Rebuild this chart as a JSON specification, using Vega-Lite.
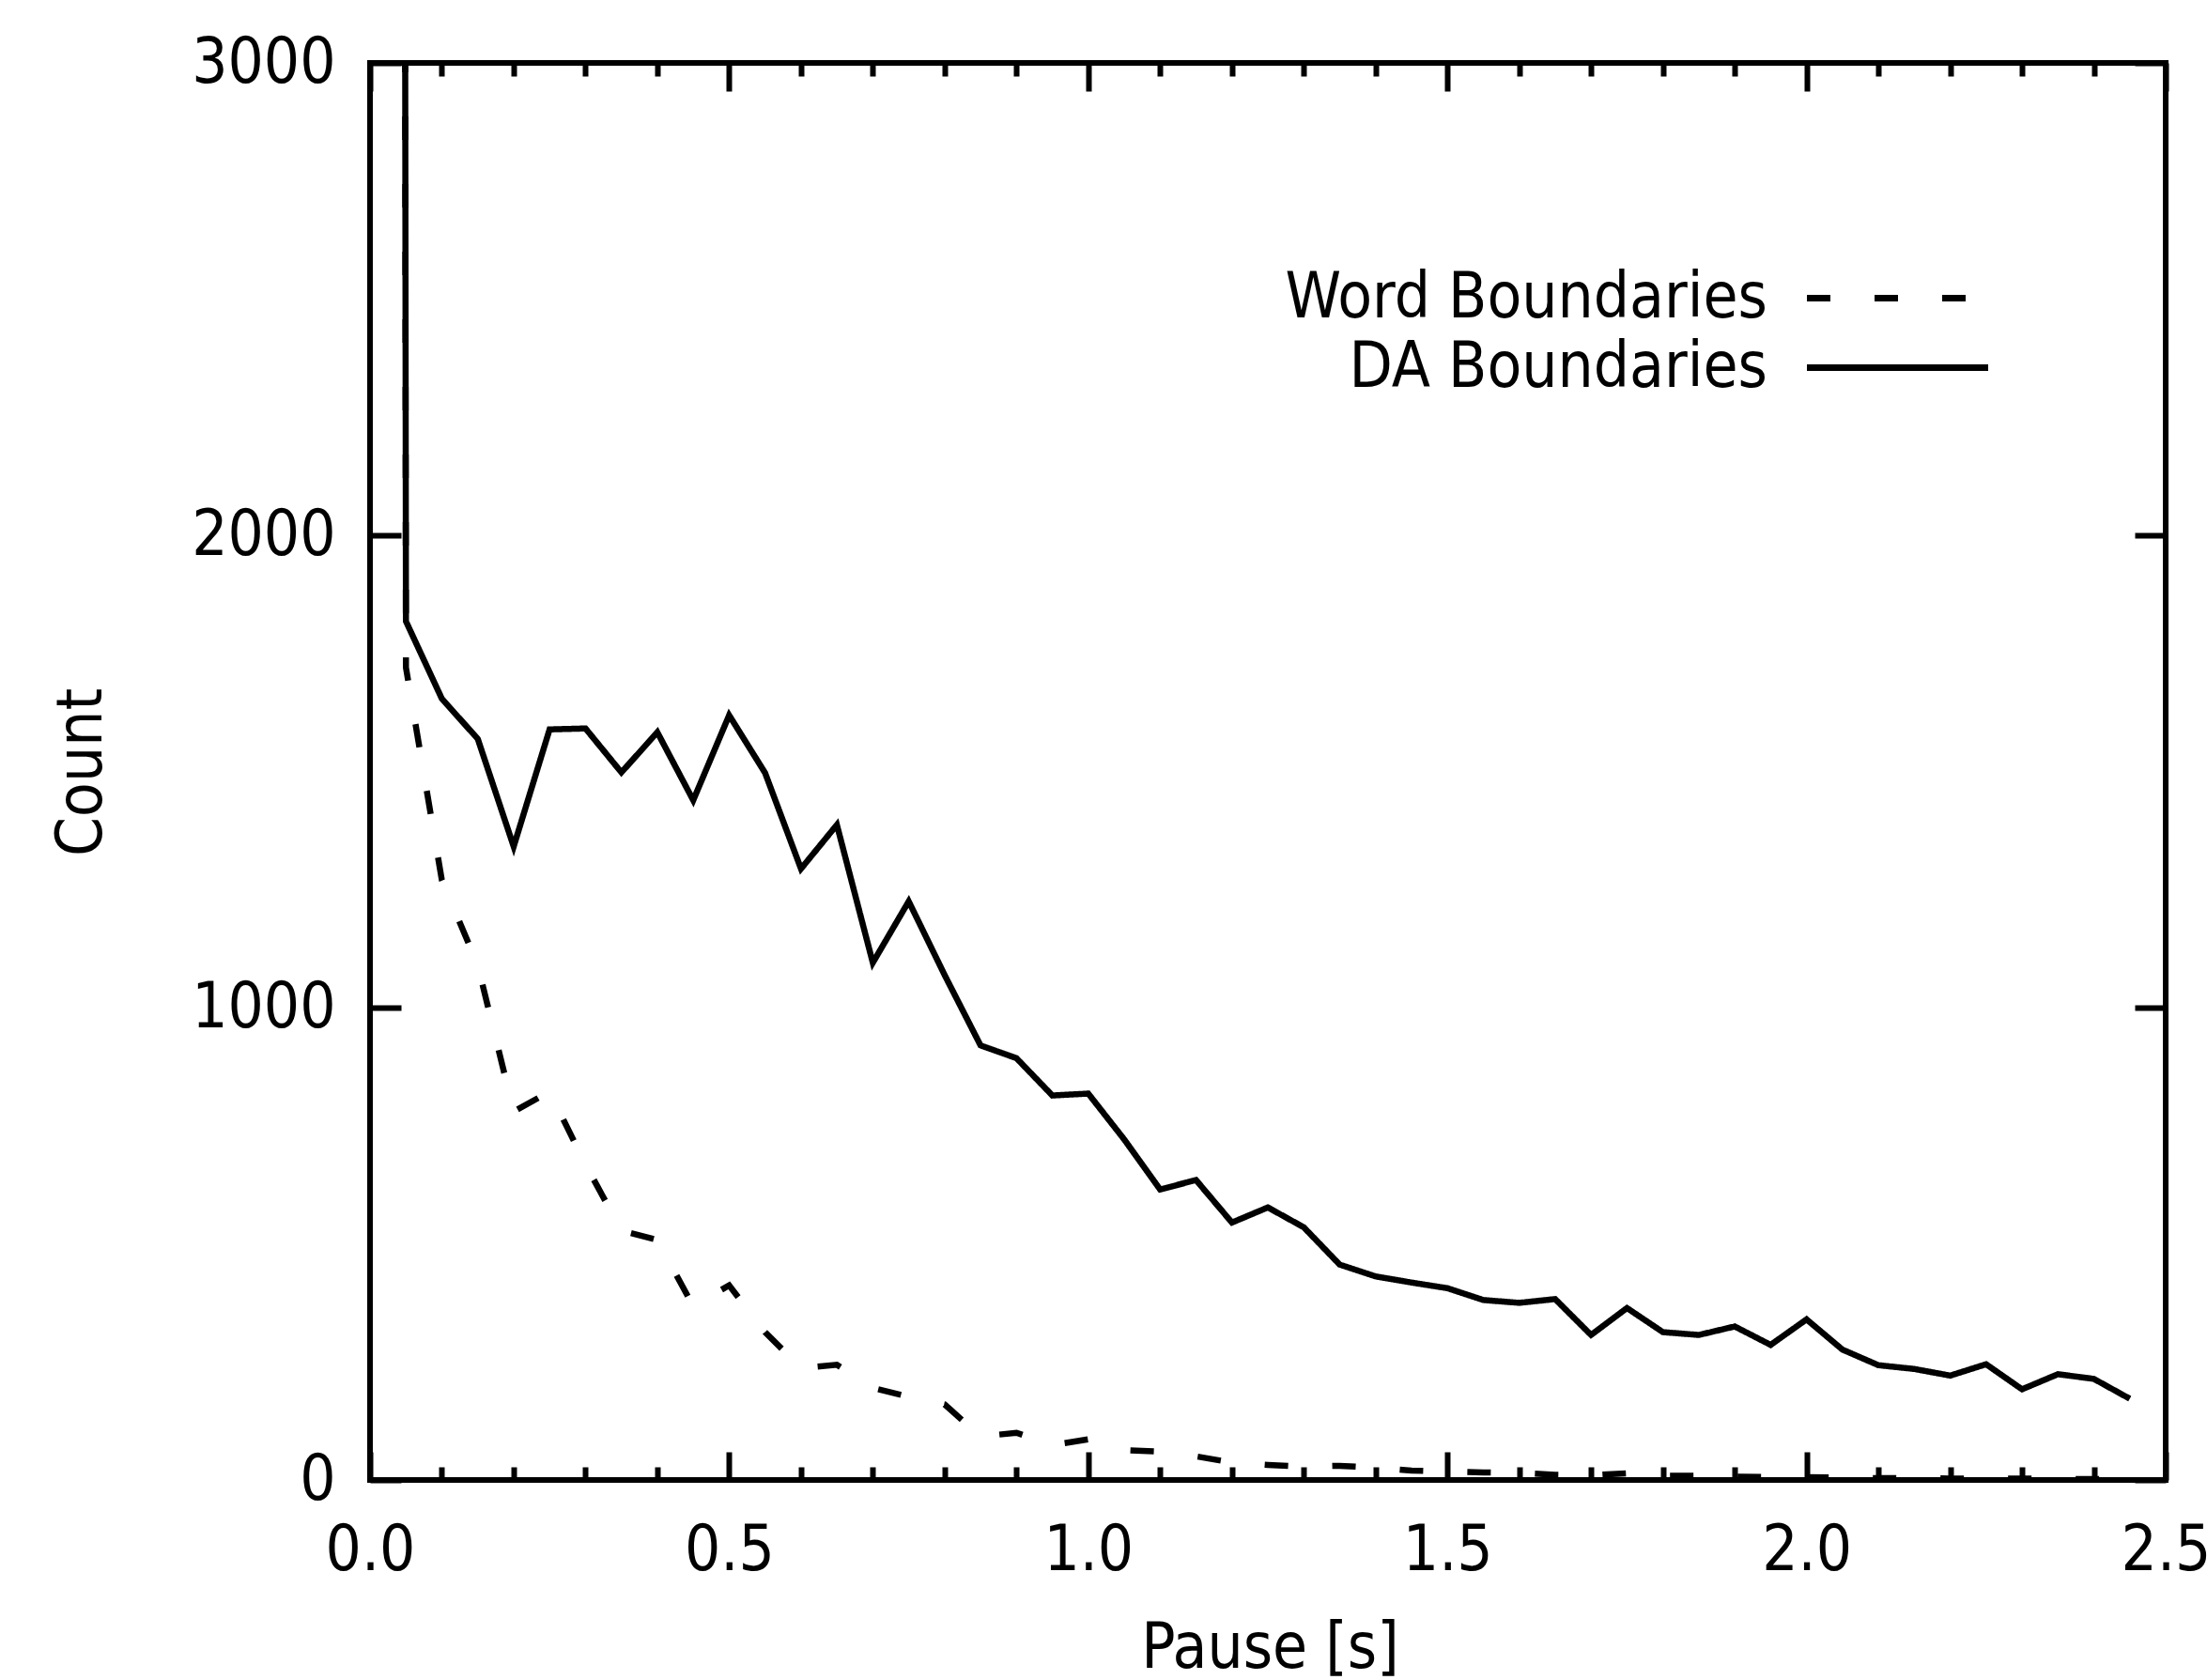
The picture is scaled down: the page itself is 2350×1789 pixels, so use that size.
{
  "$schema": "https://vega.github.io/schema/vega-lite/v6.json",
  "width": 1912,
  "height": 1509,
  "autosize": {"type": "none"},
  "padding": {"left": 394, "top": 67, "right": 44, "bottom": 213},
  "background": "white",
  "config": {
    "view": {"stroke": "black", "strokeWidth": 6},
    "axis": {
      "domain": false,
      "grid": false,
      "tickColor": "black",
      "tickWidth": 6,
      "labelColor": "black",
      "titleColor": "black",
      "labelFont": "DejaVu Sans Condensed",
      "titleFont": "DejaVu Sans Condensed",
      "labelFontSize": 67,
      "titleFontSize": 67,
      "titleFontWeight": "normal",
      "labelOverlap": false,
      "labelFlush": false,
      "labelBound": false
    },
    "legend": {
      "labelFont": "DejaVu Sans Condensed",
      "labelFontSize": 67,
      "labelColor": "black",
      "labelLimit": 1000
    }
  },
  "data": {
    "values": [
      {"pause": 0, "count": 60000, "series": "Word Boundaries"},
      {"pause": 0.05, "count": 1720, "series": "Word Boundaries"},
      {"pause": 0.1, "count": 1270, "series": "Word Boundaries"},
      {"pause": 0.15, "count": 1090, "series": "Word Boundaries"},
      {"pause": 0.2, "count": 780, "series": "Word Boundaries"},
      {"pause": 0.25, "count": 822, "series": "Word Boundaries"},
      {"pause": 0.3, "count": 668, "series": "Word Boundaries"},
      {"pause": 0.35, "count": 528, "series": "Word Boundaries"},
      {"pause": 0.4, "count": 508, "series": "Word Boundaries"},
      {"pause": 0.45, "count": 368, "series": "Word Boundaries"},
      {"pause": 0.5, "count": 412, "series": "Word Boundaries"},
      {"pause": 0.55, "count": 313, "series": "Word Boundaries"},
      {"pause": 0.6, "count": 237, "series": "Word Boundaries"},
      {"pause": 0.65, "count": 244, "series": "Word Boundaries"},
      {"pause": 0.7, "count": 195, "series": "Word Boundaries"},
      {"pause": 0.75, "count": 176, "series": "Word Boundaries"},
      {"pause": 0.8, "count": 160, "series": "Word Boundaries"},
      {"pause": 0.85, "count": 92, "series": "Word Boundaries"},
      {"pause": 0.9, "count": 100, "series": "Word Boundaries"},
      {"pause": 0.95, "count": 74, "series": "Word Boundaries"},
      {"pause": 1.0, "count": 86, "series": "Word Boundaries"},
      {"pause": 1.05, "count": 63, "series": "Word Boundaries"},
      {"pause": 1.1, "count": 60, "series": "Word Boundaries"},
      {"pause": 1.15, "count": 50, "series": "Word Boundaries"},
      {"pause": 1.2, "count": 37, "series": "Word Boundaries"},
      {"pause": 1.25, "count": 32, "series": "Word Boundaries"},
      {"pause": 1.3, "count": 28, "series": "Word Boundaries"},
      {"pause": 1.35, "count": 30, "series": "Word Boundaries"},
      {"pause": 1.4, "count": 26, "series": "Word Boundaries"},
      {"pause": 1.45, "count": 20, "series": "Word Boundaries"},
      {"pause": 1.5, "count": 18, "series": "Word Boundaries"},
      {"pause": 1.55, "count": 16, "series": "Word Boundaries"},
      {"pause": 1.6, "count": 15, "series": "Word Boundaries"},
      {"pause": 1.65, "count": 11, "series": "Word Boundaries"},
      {"pause": 1.7, "count": 10, "series": "Word Boundaries"},
      {"pause": 1.75, "count": 14, "series": "Word Boundaries"},
      {"pause": 1.8, "count": 9, "series": "Word Boundaries"},
      {"pause": 1.85, "count": 9, "series": "Word Boundaries"},
      {"pause": 1.9, "count": 7, "series": "Word Boundaries"},
      {"pause": 1.95, "count": 6, "series": "Word Boundaries"},
      {"pause": 2.0, "count": 6, "series": "Word Boundaries"},
      {"pause": 2.05, "count": 5, "series": "Word Boundaries"},
      {"pause": 2.1, "count": 4, "series": "Word Boundaries"},
      {"pause": 2.15, "count": 4, "series": "Word Boundaries"},
      {"pause": 2.2, "count": 3, "series": "Word Boundaries"},
      {"pause": 2.25, "count": 3, "series": "Word Boundaries"},
      {"pause": 2.3, "count": 3, "series": "Word Boundaries"},
      {"pause": 2.35, "count": 2, "series": "Word Boundaries"},
      {"pause": 2.4, "count": 2, "series": "Word Boundaries"},
      {"pause": 2.45, "count": 2, "series": "Word Boundaries"},
      {"pause": 0, "count": 60000, "series": "DA Boundaries"},
      {"pause": 0.05, "count": 1818, "series": "DA Boundaries"},
      {"pause": 0.1, "count": 1654, "series": "DA Boundaries"},
      {"pause": 0.15, "count": 1569, "series": "DA Boundaries"},
      {"pause": 0.2, "count": 1341, "series": "DA Boundaries"},
      {"pause": 0.25, "count": 1589, "series": "DA Boundaries"},
      {"pause": 0.3, "count": 1591, "series": "DA Boundaries"},
      {"pause": 0.35, "count": 1498, "series": "DA Boundaries"},
      {"pause": 0.4, "count": 1583, "series": "DA Boundaries"},
      {"pause": 0.45, "count": 1439, "series": "DA Boundaries"},
      {"pause": 0.5, "count": 1619, "series": "DA Boundaries"},
      {"pause": 0.55, "count": 1497, "series": "DA Boundaries"},
      {"pause": 0.6, "count": 1294, "series": "DA Boundaries"},
      {"pause": 0.65, "count": 1387, "series": "DA Boundaries"},
      {"pause": 0.7, "count": 1095, "series": "DA Boundaries"},
      {"pause": 0.75, "count": 1225, "series": "DA Boundaries"},
      {"pause": 0.8, "count": 1069, "series": "DA Boundaries"},
      {"pause": 0.85, "count": 920, "series": "DA Boundaries"},
      {"pause": 0.9, "count": 893, "series": "DA Boundaries"},
      {"pause": 0.95, "count": 814, "series": "DA Boundaries"},
      {"pause": 1.0, "count": 818, "series": "DA Boundaries"},
      {"pause": 1.05, "count": 721, "series": "DA Boundaries"},
      {"pause": 1.1, "count": 615, "series": "DA Boundaries"},
      {"pause": 1.15, "count": 635, "series": "DA Boundaries"},
      {"pause": 1.2, "count": 545, "series": "DA Boundaries"},
      {"pause": 1.25, "count": 577, "series": "DA Boundaries"},
      {"pause": 1.3, "count": 535, "series": "DA Boundaries"},
      {"pause": 1.35, "count": 456, "series": "DA Boundaries"},
      {"pause": 1.4, "count": 431, "series": "DA Boundaries"},
      {"pause": 1.45, "count": 418, "series": "DA Boundaries"},
      {"pause": 1.5, "count": 406, "series": "DA Boundaries"},
      {"pause": 1.55, "count": 381, "series": "DA Boundaries"},
      {"pause": 1.6, "count": 375, "series": "DA Boundaries"},
      {"pause": 1.65, "count": 383, "series": "DA Boundaries"},
      {"pause": 1.7, "count": 307, "series": "DA Boundaries"},
      {"pause": 1.75, "count": 364, "series": "DA Boundaries"},
      {"pause": 1.8, "count": 313, "series": "DA Boundaries"},
      {"pause": 1.85, "count": 307, "series": "DA Boundaries"},
      {"pause": 1.9, "count": 325, "series": "DA Boundaries"},
      {"pause": 1.95, "count": 286, "series": "DA Boundaries"},
      {"pause": 2.0, "count": 340, "series": "DA Boundaries"},
      {"pause": 2.05, "count": 276, "series": "DA Boundaries"},
      {"pause": 2.1, "count": 243, "series": "DA Boundaries"},
      {"pause": 2.15, "count": 235, "series": "DA Boundaries"},
      {"pause": 2.2, "count": 221, "series": "DA Boundaries"},
      {"pause": 2.25, "count": 245, "series": "DA Boundaries"},
      {"pause": 2.3, "count": 192, "series": "DA Boundaries"},
      {"pause": 2.35, "count": 224, "series": "DA Boundaries"},
      {"pause": 2.4, "count": 214, "series": "DA Boundaries"},
      {"pause": 2.45, "count": 172, "series": "DA Boundaries"}
    ]
  },
  "layer": [
    {
      "mark": {"type": "line", "color": "black", "strokeWidth": 6.5, "strokeJoin": "miter", "strokeCap": "butt", "clip": true},
      "encoding": {
        "x": {
          "field": "pause", "type": "quantitative",
          "scale": {"domain": [0, 2.5], "nice": false, "zero": false},
          "axis": {
            "orient": "bottom",
            "values": [0, 0.1, 0.2, 0.3, 0.4, 0.5, 0.6, 0.7, 0.8, 0.9, 1, 1.1, 1.2, 1.3, 1.4, 1.5, 1.6, 1.7, 1.8, 1.9, 2, 2.1, 2.2, 2.3, 2.4, 2.5],
            "tickSize": {"condition": {"test": "abs(datum.value*2 - round(datum.value*2)) < 0.001", "value": -30}, "value": -14},
            "labelPadding": 72,
            "labelExpr": "abs(datum.value*2 - round(datum.value*2)) < 0.001 ? format(datum.value, '.1f') : ''",
            "labelAlign": "center",
            "labelBaseline": "top",
            "title": "Pause [s]",
            "titleX": 958,
            "titleY": 199,
            "titleAlign": "center",
            "titleBaseline": "alphabetic"
          }
        },
        "y": {
          "field": "count", "type": "quantitative",
          "scale": {"domain": [0, 3000], "nice": false},
          "axis": {
            "orient": "left",
            "values": [0, 1000, 2000, 3000],
            "format": "d",
            "tickSize": -33,
            "labelPadding": 70,
            "labelAlign": "right",
            "labelBaseline": "middle",
            "title": "Count",
            "titleAngle": 270,
            "titleX": -287,
            "titleY": 755,
            "titleAlign": "center",
            "titleBaseline": "alphabetic"
          }
        },
        "strokeDash": {
          "field": "series", "type": "nominal",
          "scale": {"domain": ["Word Boundaries", "DA Boundaries"], "range": [[25, 47], [1, 0]]},
          "legend": {
            "orient": "none",
            "legendX": 1593,
            "legendY": 217,
            "title": null,
            "symbolType": "M-9.65,0H9.65",
            "symbolSize": 400,
            "symbolStrokeWidth": 7,
            "symbolStrokeColor": "black",
            "symbolFillColor": "transparent",
            "labelAlign": "right",
            "labelBaseline": "middle",
            "labelOffset": -172,
            "rowPadding": 6,
            "padding": 0
          }
        }
      }
    },
    {
      "mark": {"type": "point", "opacity": 0},
      "encoding": {
        "x": {
          "field": "pause", "type": "quantitative",
          "scale": {"domain": [0, 2.5], "nice": false, "zero": false},
          "axis": {
            "orient": "top",
            "values": [0, 0.1, 0.2, 0.3, 0.4, 0.5, 0.6, 0.7, 0.8, 0.9, 1, 1.1, 1.2, 1.3, 1.4, 1.5, 1.6, 1.7, 1.8, 1.9, 2, 2.1, 2.2, 2.3, 2.4, 2.5],
            "tickSize": {"condition": {"test": "abs(datum.value*2 - round(datum.value*2)) < 0.001", "value": -30}, "value": -14},
            "labels": false,
            "title": null
          }
        },
        "y": {
          "field": "count", "type": "quantitative",
          "scale": {"domain": [0, 3000], "nice": false},
          "axis": {
            "orient": "right",
            "values": [0, 1000, 2000, 3000],
            "tickSize": -33,
            "labels": false,
            "title": null
          }
        }
      }
    }
  ],
  "resolve": {"axis": {"x": "independent", "y": "independent"}}
}
